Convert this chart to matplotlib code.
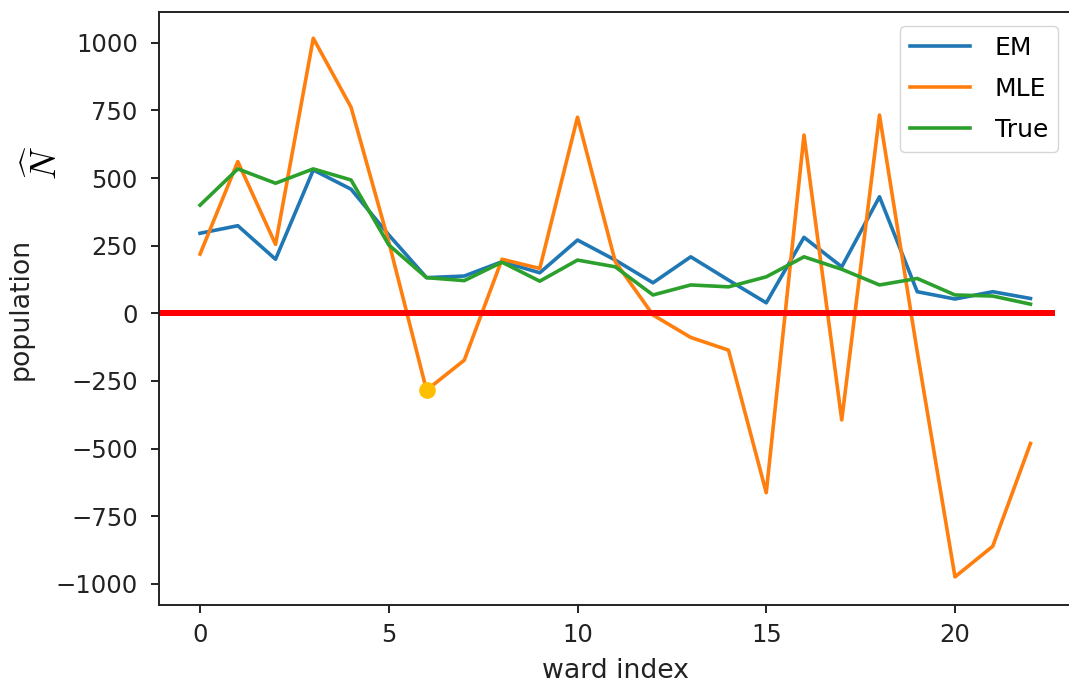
import matplotlib
matplotlib.use("Agg")
import matplotlib.pyplot as plt
import numpy as np

ward_index = list(range(23))
em_values = [296, 324, 200, 530, 459, 290, 132, 138, 191, 150, 271, 197, 113,
             209, 123, 39, 281, 172, 431, 80, 53, 80, 55]
mle_values = [219, 561, 255, 1017, 762, 264, -284, -173, 200, 166, 725, 191, -6,
              -89, -136, -663, 659, -394, 733, -142, -974, -861, -481]
true_values = [400, 534, 481, 534, 493, 253, 132, 121, 189, 119, 197, 172, 68,
               105, 98, 135, 209, 163, 105, 129, 68, 64, 34]
highlight_index = 6
series_labels = ["EM", "MLE", "True"]
x_ticks = [0, 5, 10, 15, 20]
y_ticks = [-1000, -750, -500, -250, 0, 250, 500, 750, 1000]

FS = 17.5
LFS = 19.3
plt.rcParams['font.family'] = ['DejaVu Sans']
plt.rcParams['savefig.bbox'] = None
fig = plt.figure(figsize=(10.69, 6.85), dpi=100, facecolor='white')
ax = fig.add_axes([0.1483, 0.1168, 0.8545, 0.8657])

lw = 2.6
ax.plot(ward_index, em_values, color='#1f77b4', lw=lw, label=series_labels[0])
ax.plot(ward_index, mle_values, color='#ff7f0e', lw=lw, label=series_labels[1])
ax.plot(ward_index, true_values, color='#2ca02c', lw=lw, label=series_labels[2])
ax.axhline(0, xmin=0, xmax=0.978, color='red', lw=4.3)
ax.plot([ward_index[highlight_index]], [mle_values[highlight_index]], 'o',
        color='#FFBF00', markersize=11, zorder=5)

ax.set_xlim(-1.1, 23.1)
ax.set_ylim(-1078, 1114)
ax.set_xticks(x_ticks)
ax.set_yticks(y_ticks)
ax.tick_params(labelsize=FS, length=6, width=1.4, colors='#222222')
ax.tick_params(axis='y', pad=9)
ax.tick_params(axis='x', pad=7)
for s in ax.spines.values():
    s.set_linewidth(1.4)
    s.set_color('#222222')
ax.spines['right'].set_visible(False)

ax.set_xlabel("ward index", fontsize=LFS, color='#222222')
ax.set_ylabel("population", fontsize=LFS, color='#222222')
ax.yaxis.set_label_coords(-0.137, 0.5)
ax.xaxis.set_label_coords(0.5, -0.09)

leg = ax.legend(fontsize=18, loc='upper right', handlelength=2.4,
                handletextpad=1.0, labelspacing=0.68,
                borderaxespad=0.55, fancybox=True)

fig.text(0.041, 0.762, r'$\widehat{N}$', rotation=90, fontsize=26,
         ha='center', va='center', math_fontfamily='cm')

fig.savefig("out.png", dpi=100, bbox_inches=None)
